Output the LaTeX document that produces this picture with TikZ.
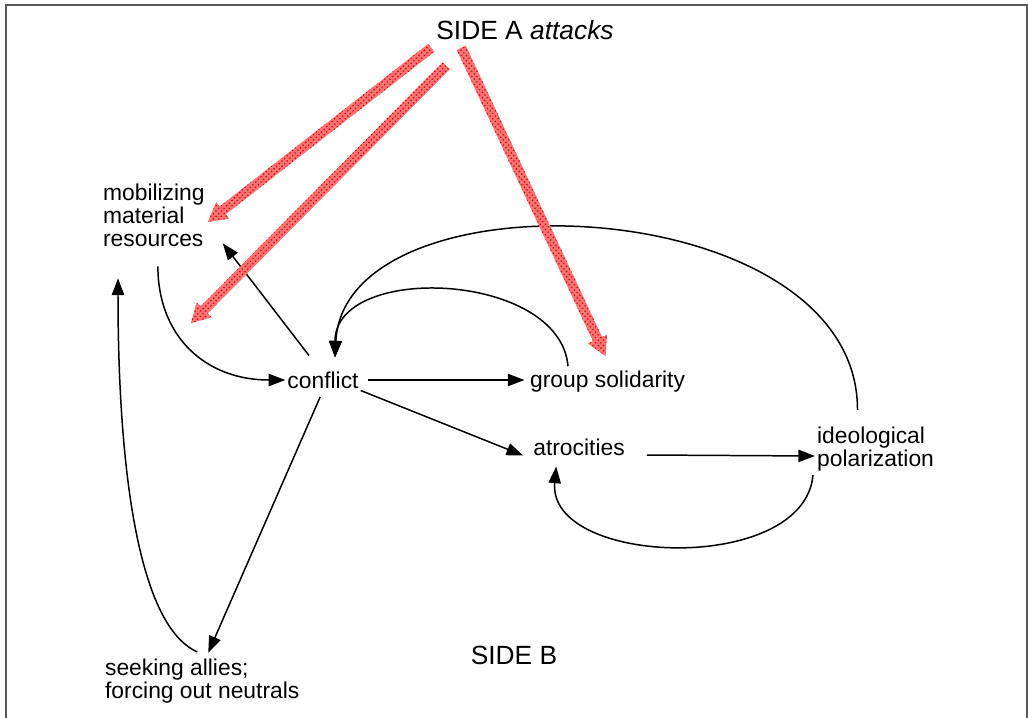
\documentclass[tikz,border=0pt]{standalone}
\usepackage{fontspec}
\setmainfont{Liberation Sans}
\usepackage{tikz}
\usetikzlibrary{arrows.meta, calc, patterns}

% hatched red arrow from #1 to #2
\newcommand\attackarrow[2]{%
  \coordinate (aa-s) at (#1);
  \coordinate (aa-t) at (#2);
  \coordinate (aa-h) at ($(aa-t)!0.38cm!(aa-s)$);
  \path[attack] ($(aa-s)!0.1cm!90:(aa-t)$) -- ($(aa-h)!0.1cm!90:(aa-t)$)
    -- ($(aa-h)!0.21cm!90:(aa-t)$) -- (aa-t)
    -- ($(aa-h)!0.21cm!-90:(aa-t)$) -- ($(aa-h)!0.1cm!-90:(aa-t)$)
    -- ($(aa-s)!0.1cm!-90:(aa-t)$) -- cycle;}

\begin{document}
\begin{tikzpicture}[x=0.02cm, y=0.02cm,
    every node/.style={font=\fontsize{13}{13}\selectfont, inner sep=1pt, align=left},
    side/.style={font=\fontsize{15}{15}\selectfont},
    arr/.style={line width=0.85pt, -{Triangle[length=9.5pt, width=7pt]}},
    attack/.style={preaction={fill=red!55}, pattern=crosshatch dots, pattern color=red!85!black}]
        \useasboundingbox (0,0) rectangle (1028,-717);
        \draw[black!65, line width=0.8pt] (6,-5) rectangle (1027,-740);

        %---------------- Nodes ----------------%
        \node[side] (sideA) at (525,-30) {SIDE A \textit{attacks}};
        \node[anchor=west] (mob) at (101,-215) {mobilizing\\material\\resources};
        \node (conf) at (323,-380) {conflict};
        \node[anchor=west] (solid) at (528,-382) {group solidarity};
        \node (atro) at (579,-447) {atrocities};
        \node[anchor=west] (ideo) at (815,-449) {ideological\\polarization};
        \node[anchor=west] (seek) at (103,-681) {seeking allies;\\forcing out neutrals};
        \node[side] (sideB) at (514,-655) {SIDE B};

        %---------------- Side B links ----------------%
        \draw[arr] ($(mob.south)+(4,-18)$) .. controls +(0,-70) and +(-80,0) .. (conf.west);
        \draw[arr] ($(conf.north)+(-14,14)$) -- ($(mob.south east)+(16,5)$);
        \draw[arr, shorten <=4pt, shorten >=2pt] (conf.east) -- (conf.east -| solid.west);
        \draw[arr] (conf.south east) -- ($(atro.south west)+(-8,2)$);
        \draw[arr, shorten <=4pt] (conf.south) -- ($(seek.north)+(6,4)$);
        \draw[arr] ($(seek.north)+(-5,5)$) .. controls +(-57,25) and +(0,-200) .. ($(mob.south west)+(17,-30)$);
        \draw[arr] ($(solid.north west)+(40,3)$) .. controls +(-8,95) and +(0,95) .. ($(conf.north)+(12,12)$);
        \draw[arr] ($(ideo.north)+(-18,15)$) .. controls +(0,220) and +(10,190) .. ($(conf.north)+(12,12)$);
        \draw[arr] ($(atro.east)+(20,-8)$) -- ($(ideo.west)+(0,-7)$);
        \draw[arr] ($(ideo.south west)+(-2,-2)$) .. controls +(-9,-100) and +(-9,-100) .. ($(atro.south west)+(25,-9)$);

        %---------------- Side A attacks ----------------%
        \attackarrow{$(sideA.south west)+(-3,-6)$}{$(mob.east)+(1,-7)$}
        \attackarrow{$(sideA.south west)+(12,-24)$}{$(mob.south east)+(-16,-75)$}
        \attackarrow{$(sideA.south west)+(27,-6)$}{$(solid.north)+(-2,13)$}
\end{tikzpicture}
\end{document}
